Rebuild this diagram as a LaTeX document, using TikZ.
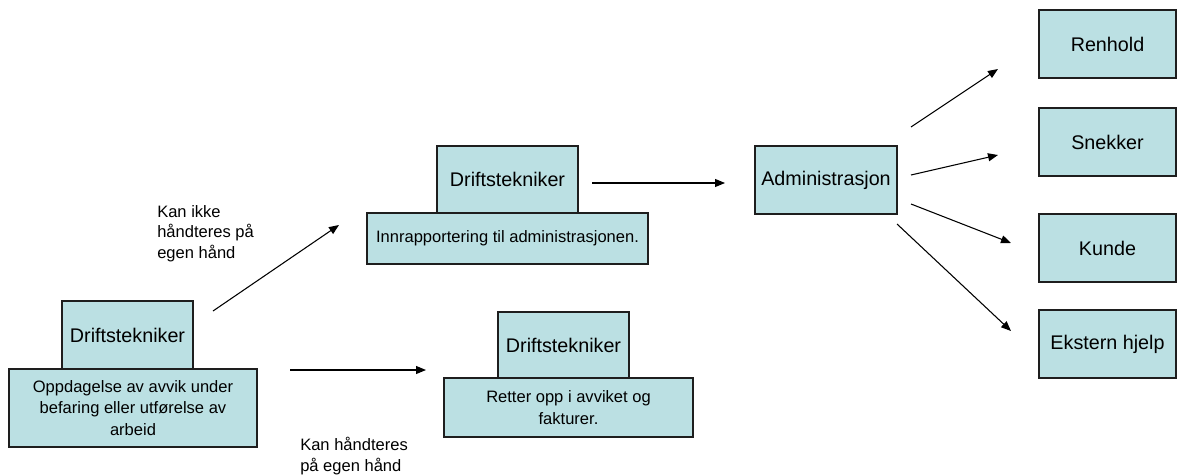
\documentclass[tikz,border=0pt]{standalone}
\usepackage{fontspec}
\setmainfont{Liberation Sans}
\usetikzlibrary{arrows.meta}
\definecolor{boxfill}{HTML}{BBE0E3}
\definecolor{boxline}{HTML}{1E1E1E}
\tikzset{
  box/.style={draw=boxline, fill=boxfill, line width=0.9pt, inner sep=0pt, align=center},
  % box size in pixel units (1px = 0.75pt)
  boxsize/.style 2 args={minimum width=#1*0.75pt, minimum height=#2*0.75pt},
  big/.style={font=\fontsize{14.8pt}{18pt}\selectfont},
  small/.style={font=\fontsize{12.4pt}{16.3pt}\selectfont},
  flow/.style={line width=0.8pt, draw=black, -{Triangle[length=7.5pt,width=6pt]}},
  note/.style={anchor=north west, inner sep=0pt, align=left, font=\fontsize{12.4pt}{15.5pt}\selectfont}
}
\begin{document}
\begin{tikzpicture}[x=0.75pt,y=-0.75pt]
\useasboundingbox (0,0) rectangle (1177,475);

% discovery of the deviation
\node[box, big, boxsize={131}{68}] (a1) at (127.5,335) {Driftstekniker};
\node[box, small, boxsize={248}{78}] (a2) at (133,408)
  {Oppdagelse av avvik under\\befaring eller utførelse av\\arbeid};

% reporting to the administration
\node[box, big, boxsize={141}{67}] (b1) at (507.5,179.5) {Driftstekniker};
\node[box, small, boxsize={281}{51}] (b2) at (507.5,238.5) {Innrapportering til administrasjonen.};

% handled directly
\node[box, big, boxsize={131}{66}] (c1) at (563.5,345) {Driftstekniker};
\node[box, small, boxsize={249}{59}] (c2) at (568.5,407.5) {Retter opp i avviket og\\fakturer.};

% administration and its recipients
\node[box, big, boxsize={142}{68}] (adm) at (826,180) {Administrasjon};
\node[box, big, boxsize={137}{68}] (r1) at (1107.5,44) {Renhold};
\node[box, big, boxsize={137}{68}] (r2) at (1107.5,142) {Snekker};
\node[box, big, boxsize={137}{68}] (r3) at (1107.5,248) {Kunde};
\node[box, big, boxsize={137}{68}] (r4) at (1107.5,344) {Ekstern hjelp};

% arrow end points
\coordinate (ab0) at (213,311);  \coordinate (ab1) at (339,225);
\coordinate (ac0) at (290,370);  \coordinate (ac1) at (426,370);
\coordinate (bd0) at (592,183);  \coordinate (bd1) at (725,183);
\coordinate (d10) at (911,127);  \coordinate (d11) at (998,69);
\coordinate (d20) at (911,175);  \coordinate (d21) at (998,155);
\coordinate (d30) at (911,204);  \coordinate (d31) at (1011,243);
\coordinate (d40) at (897,224);  \coordinate (d41) at (1011,331);

\draw[flow] (ab0) -- (ab1);
\draw[flow] (ac0) -- (ac1);
\draw[flow] (bd0) -- (bd1);
\draw[flow] (d10) -- (d11);
\draw[flow] (d20) -- (d21);
\draw[flow] (d30) -- (d31);
\draw[flow] (d40) -- (d41);

% branch labels
\node[note] (l1) at (157,205) {Kan ikke\\håndteres på\\egen hånd};
\node[note] (l2) at (300,437) {Kan håndteres\\på egen hånd};
\end{tikzpicture}
\end{document}
